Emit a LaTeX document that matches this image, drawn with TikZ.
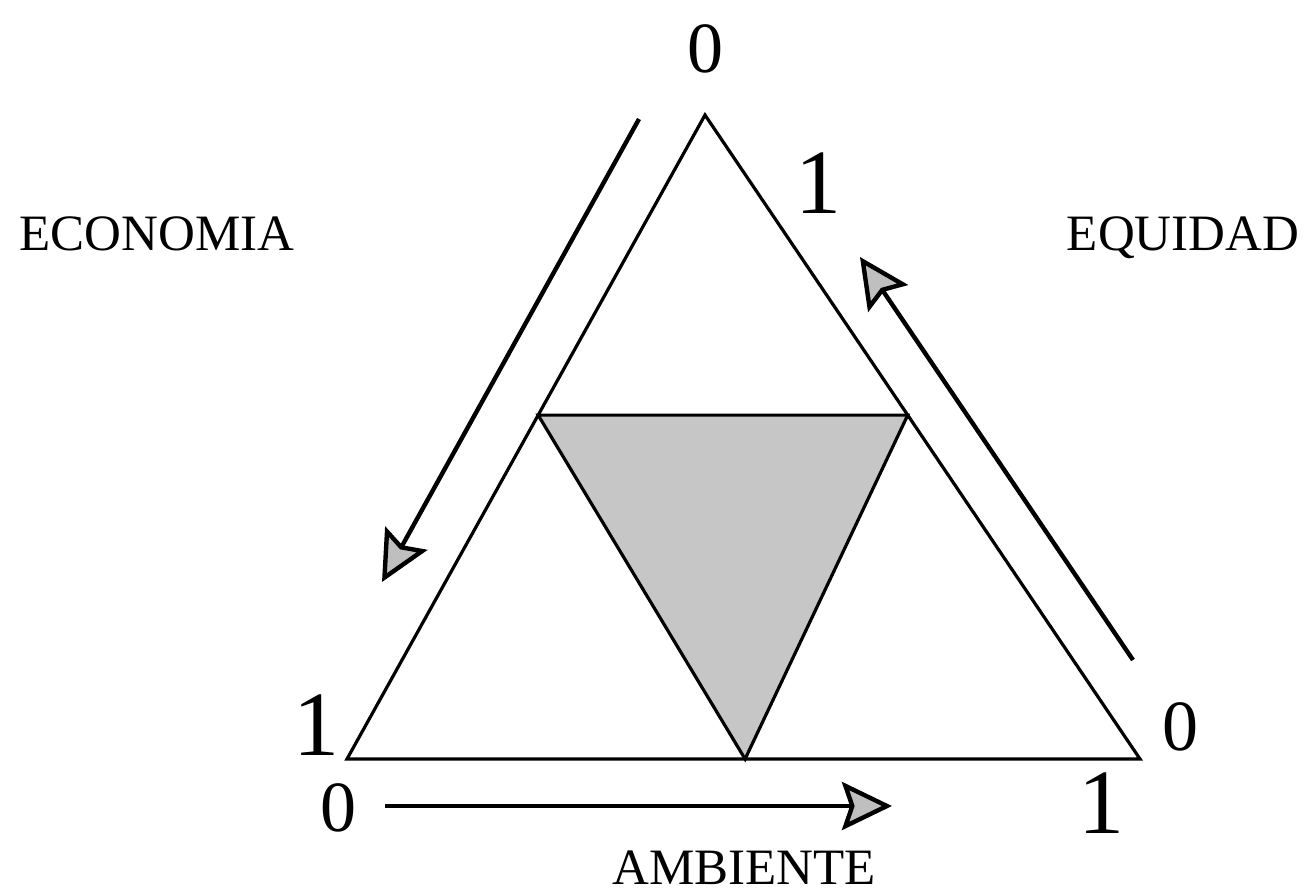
\documentclass[tikz,border=0pt]{standalone}
\usepackage{fontspec}
\setmainfont{Liberation Serif}
\usetikzlibrary{arrows.meta, calc}

\begin{document}
\begin{tikzpicture}[
    x=0.5pt, y=-0.5pt,
    edge/.style={draw=black, line width=1.6pt},
    core/.style={draw=black, line width=1.6pt, fill=gray!45},
    arrow/.style={-{Stealth[length=25pt, width=24pt, inset=4pt, fill=gray!50]}, line width=2.2pt, draw=black},
    word/.style={font=\fontsize{25.5}{30}\selectfont, anchor=base, inner sep=0pt},
    zero/.style={font=\fontsize{36}{40}\selectfont, anchor=base, inner sep=0pt},
    one/.style={font=\fontsize{46}{50}\selectfont, anchor=base, inner sep=0pt}
]
\useasboundingbox (0,0) rectangle (1307,895);

\coordinate (top) at (705,115);
\coordinate (bl) at (347,759);
\coordinate (br) at (1140,759);
\coordinate (il) at ($(top)!0.466!(bl)$);
\coordinate (ir) at ($(top)!0.466!(br)$);
\coordinate (ib) at ($(bl)!0.502!(br)$);

\draw[core] (il) -- (ir) -- (ib) -- cycle;
\draw[edge] (top) -- (bl) -- (br) -- cycle;

\node[zero] (topzero) at (705,72) {0};
\node[one] (topone) at (818,213) {1};
\node[one] (blone) at (316,755) {1};
\node[zero] (blzero) at (338,831) {0};
\node[zero] (brzero) at (1180,750) {0};
\node[one] (brone) at (1101,833) {1};

\node[word] (eco) at (157,250) {ECONOMIA};
\node[word] (equ) at (1183,250) {EQUIDAD};
\node[word] (amb) at (744,884) {AMBIENTE};

\coordinate (ecotail) at (639,119);
\coordinate (ecotip) at (382,582);
\coordinate (equtail) at (1133,660);
\coordinate (equtip) at (860,257);
\coordinate (ambtail) at (385,806);
\coordinate (ambtip) at (892,806);

\draw[arrow] (ecotail) -- (ecotip);
\draw[arrow] (equtail) -- (equtip);
\draw[arrow] (ambtail) -- (ambtip);

\end{tikzpicture}
\end{document}
